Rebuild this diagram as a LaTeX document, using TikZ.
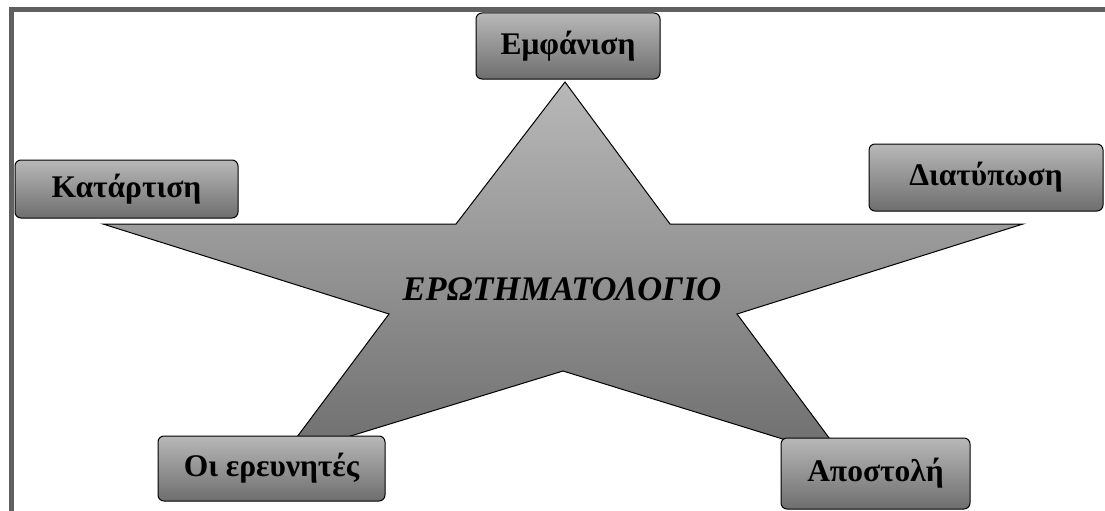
\documentclass[tikz,border=0pt]{standalone}
\usepackage{fontspec}
\setmainfont{Liberation Serif}
\definecolor{framegray}{HTML}{606060}
\definecolor{lightgr}{HTML}{B8B8B8}
\definecolor{darkgr}{HTML}{6E6E6E}
\begin{document}
\begin{tikzpicture}[x=1pt,y=-1pt]
				\tikzstyle{topic} = [draw=black,line width=1pt,rounded corners=6pt,top color=lightgr,bottom color=darkgr,font=\fontsize{31.5}{36}\selectfont\bfseries,inner sep=0pt]
				\useasboundingbox (0,0) rectangle (1105,511);
				
				% frame
				\draw[framegray,line width=4.5pt] (11.5,511) -- (11.5,9.5) -- (1105,9.5);
				
				% star
				\path[draw=black,line width=1pt,top color=lightgr,bottom color=darkgr]
					(565,82) -- (670,224) -- (1023,224) -- (737,314) -- (844,458) -- (563,371)
					-- (282,457) -- (389,314) -- (103,224) -- (456,224) -- cycle;
				\node[font=\fontsize{34.5}{40}\selectfont\bfseries\itshape] (quest) at (562,289) {ΕΡΩΤΗΜΑΤΟΛΟΓΙΟ};
				
				\node[topic,minimum width=184pt,minimum height=66pt] (emf) at (568,46) {Εμφάνιση};
				\node[topic,minimum width=223pt,minimum height=58pt] (kat) at (126.5,189) {Κατάρτιση};
				\node[topic,minimum width=234pt,minimum height=67pt] (dia) at (986,177.5) {Διατύπωση};
				\node[topic,minimum width=227pt,minimum height=65pt] (oi) at (271.5,468.5) {Οι ερευνητές};
				\node[topic,minimum width=189pt,minimum height=71pt] (apo) at (875.5,473.5) {Αποστολή};
			\end{tikzpicture}
\end{document}
